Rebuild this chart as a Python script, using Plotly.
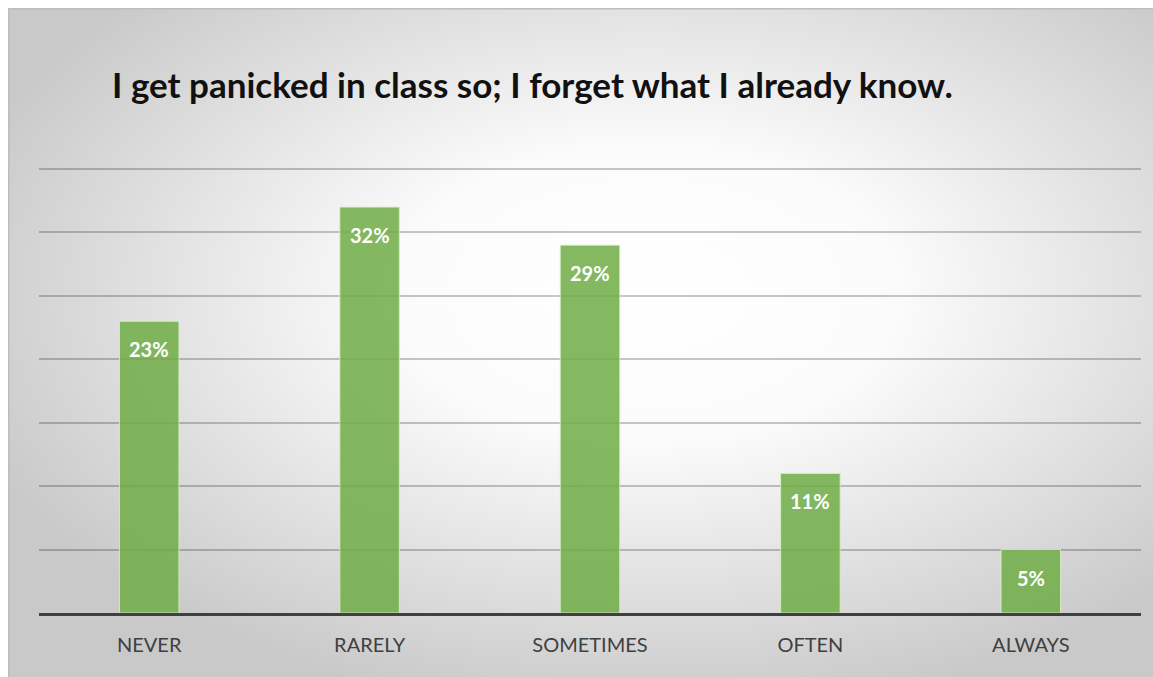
import base64
import plotly.graph_objects as go

# Survey responses
categories = ["NEVER", "RARELY", "SOMETIMES", "OFTEN", "ALWAYS"]
percentages = [23, 32, 29, 11, 5]
value_labels = ["23%", "32%", "29%", "11%", "5%"]
y_ticks = [0, 5, 10, 15, 20, 25, 30, 35]
y_max = 35.4

title_text = "I get panicked in class so; I forget what I already know."

W, H = 1153, 677
ML, MR, MT, MB = 39, 12, 164, 64
plot_w = W - ML - MR
plot_h = H - MT - MB

FONT = "Lato, 'Open Sans', sans-serif"

# Radial grey-to-white backdrop of the chart area, with a thin frame
BW, BH = 1160, 680
svg = (
    f'<svg xmlns="http://www.w3.org/2000/svg" width="{BW}" height="{BH}" '
    f'viewBox="0 0 {BW} {BH}" preserveAspectRatio="none">'
    '<defs><radialGradient id="g" cx="0.55" cy="0.42" r="0.62">'
    '<stop offset="0" stop-color="#ffffff"/>'
    '<stop offset="0.35" stop-color="#fbfbfb"/>'
    '<stop offset="1" stop-color="#c9c9c9"/>'
    '</radialGradient></defs>'
    f'<rect x="0" y="0" width="{BW}" height="{BH}" fill="url(#g)"/>'
    f'<rect x="0.75" y="0.75" width="{BW + 10}" height="{BH + 10}" fill="none" '
    'stroke="#bdbdbd" stroke-width="1.5"/>'
    '</svg>'
)
bg_src = "data:image/svg+xml;base64," + base64.b64encode(svg.encode()).decode()

# Frame position in paper coordinates
fx0, fy0 = 8, 8
img_x = (fx0 - ML) / plot_w
img_y = (H - fy0 - MB) / plot_h
img_sx = BW / plot_w
img_sy = BH / plot_h

fig = go.Figure()
fig.add_trace(go.Bar(
    x=categories,
    y=percentages,
    width=0.27,
    marker=dict(color="rgba(112,173,71,0.86)",
                line=dict(color="rgba(215,235,200,0.9)", width=1)),
    hoverinfo="skip",
))

for cat, val, lab in zip(categories, percentages, value_labels):
    fig.add_annotation(
        x=cat, y=val, text=f"<b>{lab}</b>", showarrow=False,
        yanchor="middle", yshift=-28,
        font=dict(family=FONT, size=20, color="white"),
    )

fig.add_annotation(
    xref="paper", yref="paper",
    x=(110 - ML) / plot_w, y=(H - 84 - MB) / plot_h,
    xanchor="left", yanchor="middle", showarrow=False,
    text="<b>" + title_text + "</b>",
    font=dict(family=FONT, size=35, color="#111111"),
)

fig.update_layout(
    width=W, height=H,
    margin=dict(l=ML, r=MR, t=MT, b=MB),
    paper_bgcolor="white",
    plot_bgcolor="rgba(0,0,0,0)",
    showlegend=False,
    images=[dict(
        source=bg_src, xref="paper", yref="paper",
        x=img_x, y=img_y, sizex=img_sx, sizey=img_sy,
        xanchor="left", yanchor="top", sizing="stretch", layer="below",
    )],
    xaxis=dict(
        showgrid=False, zeroline=False,
        showline=True, linecolor="#404040", linewidth=3,
        ticks="", tickfont=dict(family=FONT, size=20, color="#404040"),
        ticklabelstandoff=12,
    ),
    yaxis=dict(
        range=[0, y_max], tickvals=y_ticks, showticklabels=False,
        showgrid=True, gridcolor="rgba(0,0,0,0.22)", gridwidth=1.5,
        zeroline=False, showline=False, fixedrange=True,
    ),
    bargap=0.73,
)

fig.write_html("out.html")
